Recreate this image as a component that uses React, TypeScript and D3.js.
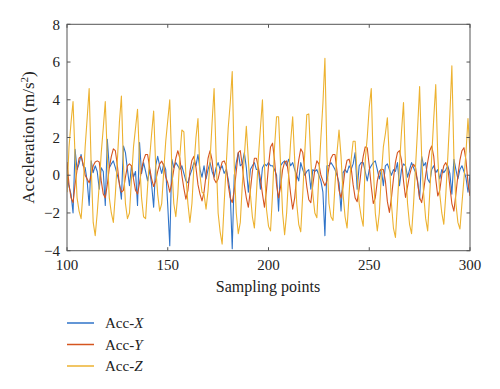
import React from "react";
import * as d3 from "d3";

const START = 100;
const accX = [
  0.0, -0.6, -1.0, -2.0, 1.38, 0.3, 0.6, 1.1, 0.5, 0.4, -0.3, -1.6, 0.76, 0.14, 0.5, 0.2, -0.74, 0.4, 0.2, -1.6,
  1.9, 0.4, 0.6, 0.76, 0.4, 0.0, -0.4, -1.27, 1.55, 1.2, 0.3, -0.56, 0.5, -0.1, 0.2, -1.6, 1.73, 0.1, 0.67, 0.2,
  -0.3, 0.3, -0.5, -1.7, 0.5, 1.0, 0.5, 0.1, 0.6, 0.3, -1.6, -3.74, 0.85, 0.4, 0.67, 0.5, 0.3, 0.5, 0.1, -0.3,
  -0.4, 0.0, 0.3, 0.67, 0.5, 1.1, 0.3, -0.1, 0.5, -0.2, 0.3, 0.67, 0.2, -0.1, 0.4, 0.67, 0.3, 0.5, 0.1, 0.3,
  -0.2, -0.9, -3.9, 0.0, 0.67, 1.2, 0.5, 0.6, 1.2, 0.4, -0.9, 0.3, 0.5, 0.67, 0.3, 0.3, -0.74, 0.4, 0.6, 0.5,
  0.67, 0.5, 0.5, 0.3, 0.0, -1.9, 0.5, 0.67, 0.76, 0.5, 0.85, 0.5, 0.67, 0.3, 0.0, -0.3, 0.67, 0.3, 0.0, 0.2,
  0.3, -0.74, 0.3, 0.2, 0.3, 0.0, -0.3, -0.9, -3.2, 0.5, 0.5, 0.67, 0.5, 0.3, 0.0, -0.4, -1.9, 0.14, 0.3, 0.14,
  0.5, 0.3, 0.6, 1.2, -0.74, 0.5, 0.67, 0.67, 0.2, -0.3, 0.3, 0.5, 0.67, 0.76, 0.3, -0.2, 0.3, -0.56, 0.5, 0.6,
  0.3, 0.0, 0.3, 0.2, 0.67, -0.56, 0.3, 0.6, 0.5, -0.1, 0.3, 0.67, 0.4, 0.14, -0.3, -1.27, 1.0, 0.5, 0.67, -0.2,
  -0.4, 0.3, 0.5, 0.14, 0.3, -0.2, 0.3, 0.14, 0.3, 0.5, 0.1, -1.0, 0.85, 0.3, -0.2, 0.3, 0.5, 0.2, -0.12, -0.9,
  0.0,
];
const accY = [
  0.7, -0.5, -1.2, -1.45, -0.5, 0.3, 0.9, 1.0, 0.6, 0.0, -0.2, -0.4, 0.0, 0.5, 0.7, 0.76, 0.7, -0.3, -1.0, -1.2,
  -0.5, 0.4, 1.0, 1.4, 1.3, 0.5, -0.5, -0.9, -0.8, -0.1, 0.5, 0.6, 0.5, -0.2, -0.8, -1.0, -0.4, 0.3, 0.8, 1.1,
  1.1, 0.4, -0.2, -0.6, -0.3, 0.2, 0.6, 0.75, 0.5, -0.1, -0.4, -0.9, -0.4, 0.3, 0.9, 1.3, 0.9, 0.0, -0.7, -1.27,
  -0.8, 0.2, 0.8, 1.0, 0.4, -0.5, -1.0, -1.36, -0.9, 0.0, 0.9, 1.3, 0.8, -0.2, -0.4, -0.2, 0.3, 0.7, 0.76, 0.5,
  -0.5, -1.2, -1.45, -0.8, 0.2, 1.2, 1.3, 0.5, -0.5, -1.2, -1.7, -0.8, 0.2, 0.9, 0.9, 0.4, -0.2, -1.0, -1.7, -0.8,
  0.5, 1.5, 1.7, 0.8, -0.5, -1.2, -0.6, 0.3, 0.7, 0.76, 0.0, -1.0, -1.8, -1.2, 0.0, 0.8, 1.4, 1.2, 0.3, -0.6,
  -1.3, -1.45, -0.5, 0.3, 0.76, 0.6, 0.0, -0.3, -0.56, -0.3, 0.4, 0.9, 1.1, 1.1, 0.2, -0.8, -1.2, -0.6, 0.3, 0.8,
  0.85, 0.4, -0.5, -1.2, -1.4, -0.7, 0.3, 1.0, 1.5, 1.46, 0.5, -0.6, -1.5, -1.2, -0.3, 0.2, 0.32, 0.3, -0.3, -1.4,
  -1.97, -1.2, -0.2, 0.7, 1.2, 1.3, 0.8, -0.3, -1.18, -0.6, 0.0, 0.4, 0.58, 0.4, -0.4, -1.2, -1.45, -0.8, 0.0, 0.7,
  1.3, 1.55, 1.0, -0.2, -1.1, -0.8, 0.0, 0.5, 0.67, 0.4, -0.6, -1.5, -1.9, -1.0, 0.0, 0.8, 1.3, 1.46, 0.8, -0.4,
  -1.1,
];
const accZ = [
  -0.9, 1.5, 2.8, 3.9, 1.0, -1.2, -1.9, -2.3, -0.8, 1.5, 3.0, 4.6, 0.5, -2.5, -3.2, -2.0, -0.5, 1.2, 2.5, 3.9,
  1.0, -1.2, -2.0, -2.5, -1.0, 0.8, 2.8, 4.2, 0.6, -1.5, -2.3, -2.0, -0.2, 1.5, 2.5, 3.5, 0.8, -1.2, -2.2, -2.3,
  -0.6, 0.9, 2.2, 3.4, 0.5, -1.0, -1.9, -1.5, 0.2, 1.8, 2.9, 4.0, 0.5, -1.5, -2.2, -1.0, 1.0, 2.4, 2.3, 0.0,
  -1.5, -2.5, -1.5, 0.5, 2.0, 3.0, 0.0, -0.9, -1.0, -1.8, -0.8, 0.8, 2.8, 4.6, 1.0, -2.0, -3.0, -3.65, -1.5, 0.5,
  2.5, 3.8, 5.5, 0.5, -2.0, -3.1, -2.5, -0.5, 1.0, 2.6, 0.8, -1.0, -2.2, -2.8, -1.0, 1.0, 2.5, 4.0, 0.5, -1.8,
  -2.7, -2.95, -1.0, 1.5, 3.1, 3.1, 0.5, -2.0, -3.15, -2.0, 0.0, 1.8, 3.1, 0.8, -1.5, -2.6, -3.0, -1.0, 1.2, 3.2,
  3.25, 0.8, -1.0, -2.0, -2.25, 0.0, 2.0, 3.8, 6.2, 1.0, -1.5, -2.2, -2.4, -0.5, 1.2, 2.4, 1.0, -1.0, -2.2, -2.8,
  -1.0, 0.8, 1.8, 1.8, 0.0, -1.5, -2.2, -2.7, 0.8, 2.0, 3.6, 4.6, 0.5, -2.0, -2.95, -2.0, 0.0, 1.5, 2.2, 3.05,
  0.8, -1.5, -2.8, -3.3, -1.5, 0.5, 2.3, 3.85, 0.5, -1.5, -2.6, -3.1, -1.5, 0.5, 2.5, 4.7, 1.0, -1.0, -2.3, -2.95,
  -1.0, 1.0, 3.0, 4.8, 1.0, -1.0, -2.0, -2.6, -1.0, 1.0, 3.2, 5.8, 1.0, -1.5, -2.5, -2.85, -1.5, -0.2, 1.2, 3.0,
  1.2,
];
const xTicks = [100, 150, 200, 250, 300];
const yTicks = [-4, -2, 0, 2, 4, 6, 8];
const seriesNames = ["X", "Y", "Z"];
const seriesColors = ["#2f73c8", "#d5551f", "#edb230"];

export default function App() {
  const W = 500, H = 389;
  const left = 67, right = 470, top = 24.3, bottom = 250.7;
  const x = d3.scaleLinear().domain([100, 300]).range([left, right]);
  const y = d3.scaleLinear().domain([-4, 8]).range([bottom, top]);
  const line = d3
    .line<number>()
    .x((_, i) => x(START + i))
    .y((d) => y(d));
  const series = [accX, accY, accZ];
  const font = "'Liberation Serif', 'DejaVu Serif', serif";
  const axisColor = "#555";
  const tick = 3.5;
  const fmt = (v: number) => (v < 0 ? "\u2212" + Math.abs(v) : String(v));
  return (
    <svg
      width={W}
      height={H}
      style={{ position: "absolute", left: 0, top: 0, background: "#fff" }}
      fontFamily={font}
    >
      <defs>
        <clipPath id="plotclip">
          <rect x={left} y={top} width={right - left} height={bottom - top} />
        </clipPath>
      </defs>
      <g clipPath="url(#plotclip)">
        {series.map((s, k) => (
          <path key={k} d={line(s) || ""} fill="none" stroke={seriesColors[k]} strokeWidth={1.1} strokeLinejoin="round" />
        ))}
      </g>
      <rect x={left} y={top} width={right - left} height={bottom - top} fill="none" stroke={axisColor} strokeWidth={1} />
      {xTicks.map((t) => (
        <g key={"x" + t}>
          <line x1={x(t)} x2={x(t)} y1={bottom} y2={bottom - tick} stroke={axisColor} />
          <line x1={x(t)} x2={x(t)} y1={top} y2={top + tick} stroke={axisColor} />
          <text x={x(t)} y={270} textAnchor="middle" fontSize={15} fill="#222">
            {fmt(t)}
          </text>
        </g>
      ))}
      {yTicks.map((t) => (
        <g key={"y" + t}>
          <line x1={left} x2={left + tick} y1={y(t)} y2={y(t)} stroke={axisColor} />
          <line x1={right} x2={right - tick} y1={y(t)} y2={y(t)} stroke={axisColor} />
          <text x={60} y={y(t)} dy="0.35em" textAnchor="end" fontSize={15} fill="#222">
            {fmt(t)}
          </text>
        </g>
      ))}
      <text x={268} y={292} textAnchor="middle" fontSize={16} fill="#222">
        Sampling points
      </text>
      <text
        transform={`translate(34,${(top + bottom) / 2}) rotate(-90)`}
        textAnchor="middle"
        fontSize={17}
        fill="#222"
      >
        Acceleration (m/s<tspan dy={-6} fontSize={11}>2</tspan>
        <tspan dy={6}>)</tspan>
      </text>
      {seriesNames.map((n, k) => {
        const ly = 323 + k * 21.5;
        return (
          <g key={n}>
            <line x1={67} x2={94} y1={ly} y2={ly} stroke={seriesColors[k]} strokeWidth={1.5} />
            <text x={105} y={ly + 5} fontSize={15} fill="#222">
              Acc-<tspan fontStyle="italic">{n}</tspan>
            </text>
          </g>
        );
      })}
    </svg>
  );
}
